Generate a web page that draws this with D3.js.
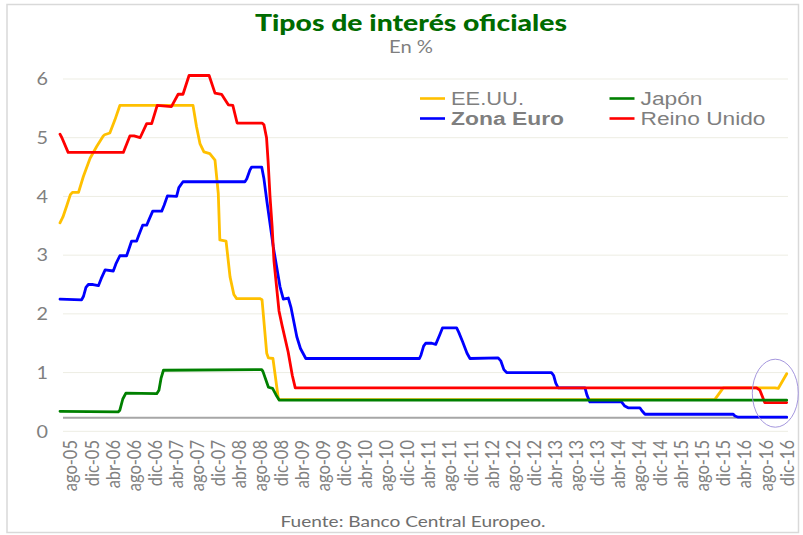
<!DOCTYPE html>
<html>
<head>
<meta charset="utf-8">
<script src="https://cdn.jsdelivr.net/npm/d3@7"></script>
<style>
  html, body { margin: 0; padding: 0; background: #ffffff; }
  svg { display: block; }
</style>
</head>
<body>
<div id="chart"></div>
<script>
// Official interest rates (%), breakpoints of each series
const usa = [
  ["2005-06-01",3.55],["2005-06-18",3.65],["2005-07-11",3.85],["2005-07-31",4.03],["2005-08-12",4.07],
  ["2005-09-16",4.07],["2005-10-14",4.34],["2005-11-22",4.65],["2005-12-30",4.85],["2006-02-06",5.03],
  ["2006-02-14",5.05],["2006-03-16",5.08],["2006-04-14",5.30],["2006-05-13",5.55],["2007-07-10",5.55],
  ["2007-07-30",5.19],["2007-08-19",4.90],["2007-09-11",4.76],["2007-10-15",4.73],["2007-11-14",4.62],
  ["2007-12-03",4.05],["2007-12-12",3.26],["2008-01-17",3.24],["2008-02-09",2.63],["2008-03-02",2.33],
  ["2008-03-18",2.26],["2008-07-30",2.26],["2008-08-12",2.24],["2008-09-08",1.33],["2008-09-18",1.25],
  ["2008-10-14",1.24],["2008-11-14",0.56],["2008-11-18",0.54],["2015-10-12",0.54],["2015-11-30",0.74],
  ["2016-09-24",0.74],["2016-10-13",0.73],["2016-12-01",0.98]
];
const zonaEuro = [
  ["2005-06-01",2.25],["2005-10-04",2.24],["2005-10-15",2.30],["2005-10-29",2.45],["2005-11-12",2.50],
  ["2005-12-09",2.50],["2006-01-09",2.48],["2006-01-25",2.60],["2006-02-17",2.75],["2006-04-05",2.73],
  ["2006-04-20",2.85],["2006-05-13",2.99],["2006-06-21",2.99],["2006-07-04",3.10],["2006-07-20",3.24],
  ["2006-08-18",3.24],["2006-09-01",3.35],["2006-09-22",3.51],["2006-10-15",3.51],["2006-10-28",3.60],
  ["2006-11-19",3.75],["2007-01-10",3.75],["2007-01-24",3.85],["2007-02-12",4.01],["2007-04-06",4.00],
  ["2007-04-19",4.15],["2007-05-13",4.25],["2008-05-05",4.25],["2008-05-16",4.30],["2008-06-03",4.45],
  ["2008-06-13",4.50],["2008-08-10",4.50],["2008-08-23",4.30],["2008-09-08",3.94],["2008-10-16",3.14],
  ["2008-11-24",2.46],["2008-12-13",2.25],["2009-01-11",2.27],["2009-01-27",2.10],["2009-03-01",1.61],
  ["2009-03-22",1.41],["2009-04-22",1.24],["2011-02-08",1.24],["2011-02-17",1.30],["2011-03-04",1.45],
  ["2011-03-16",1.50],["2011-04-20",1.50],["2011-05-13",1.48],["2011-06-06",1.65],["2011-06-21",1.76],
  ["2011-09-11",1.76],["2011-09-24",1.68],["2011-10-15",1.53],["2011-11-10",1.33],["2011-11-27",1.24],
  ["2012-05-08",1.25],["2012-05-23",1.20],["2012-06-10",1.05],["2012-06-26",1.00],["2013-03-12",1.00],
  ["2013-03-25",0.95],["2013-04-06",0.82],["2013-04-20",0.74],["2013-09-22",0.74],["2013-10-03",0.62],
  ["2013-10-20",0.50],["2014-04-21",0.50],["2014-05-10",0.43],["2014-05-29",0.40],["2014-08-05",0.40],
  ["2014-08-17",0.35],["2014-09-04",0.29],["2016-01-27",0.29],["2016-02-06",0.26],["2016-02-25",0.24],
  ["2016-12-01",0.24]
];
const japon = [
  ["2005-06-01",0.34],["2006-05-03",0.33],["2006-05-13",0.36],["2006-05-30",0.55],["2006-06-17",0.65],
  ["2006-12-12",0.64],["2006-12-25",0.70],["2007-01-06",0.90],["2007-01-20",1.04],["2008-08-10",1.05],
  ["2008-08-17",1.02],["2008-09-18",0.75],["2008-10-12",0.73],["2008-11-01",0.62],["2008-11-20",0.53],
  ["2016-12-01",0.53]
];
const reinoUnido = [
  ["2005-06-01",5.06],["2005-06-12",5.00],["2005-07-18",4.75],["2006-06-02",4.75],["2006-07-10",5.03],
  ["2006-08-03",5.03],["2006-09-07",5.00],["2006-10-15",5.24],["2006-11-13",5.24],["2006-12-15",5.55],
  ["2007-03-07",5.53],["2007-04-15",5.74],["2007-05-13",5.74],["2007-06-17",6.06],["2007-10-11",6.06],
  ["2007-11-14",5.76],["2007-12-22",5.74],["2008-01-30",5.56],["2008-02-25",5.55],["2008-03-21",5.25],
  ["2008-08-12",5.25],["2008-08-23",5.22],["2008-09-07",5.00],["2008-09-16",4.60],["2008-09-27",4.00],
  ["2008-10-09",3.50],["2008-10-20",2.90],["2008-11-18",2.05],["2008-12-06",1.80],["2009-01-10",1.35],
  ["2009-02-03",0.95],["2009-02-20",0.74],["2016-06-10",0.74],["2016-06-29",0.70],["2016-07-27",0.49],
  ["2016-12-01",0.49]
];

const tickLabels = ["ago-05","dic-05","abr-06","ago-06","dic-06","abr-07","ago-07","dic-07","abr-08",
  "ago-08","dic-08","abr-09","ago-09","dic-09","abr-10","ago-10","dic-10","abr-11","ago-11","dic-11",
  "abr-12","ago-12","dic-12","abr-13","ago-13","dic-13","abr-14","ago-14","dic-14","abr-15","ago-15",
  "dic-15","abr-16","ago-16","dic-16"];
const yTicks = [0, 1, 2, 3, 4, 5, 6];
const axisCross = 0.23;   // the category axis crosses the value axis here

const seriesList = [
  { name: "EE.UU.",      data: usa,        color: "#FFC000" },
  { name: "Zona Euro",   data: zonaEuro,   color: "#0000FF" },
  { name: "Reino Unido", data: reinoUnido, color: "#FF0000" },
  { name: "Japón",       data: japon,      color: "#008000" }
];

const W = 803, H = 535;
const parse = d3.timeParse("%Y-%m-%d");
const meses = {ene:0,feb:1,mar:2,abr:3,may:4,jun:5,jul:6,ago:7,sep:8,oct:9,nov:10,dic:11};
const labelDate = s => new Date(2000 + +s.slice(4), meses[s.slice(0,3)], 1);

const x = d3.scaleTime()
  .domain([new Date(2005, 5, 1), new Date(2016, 11, 1)])
  .range([60, 786.7]);
const y = d3.scaleLinear().domain([0, 6]).range([431.3, 79]);
const gridX0 = 63, gridX1 = 788;
const sx = 1.2;  // horizontal text stretch

const svg = d3.select("#chart").append("svg")
  .attr("width", W).attr("height", H)
  .style("font-family", "Lato, 'Open Sans', sans-serif");

// frame
svg.append("rect")
  .attr("x", 7).attr("y", 4.5).attr("width", 791.5).attr("height", 528)
  .attr("fill", "#ffffff").attr("stroke", "#D9D9D9").attr("stroke-width", 1.5);

// title
svg.append("text")
  .attr("x", 411).attr("y", 31).attr("text-anchor", "middle")
  .attr("font-size", 22.5).attr("font-weight", 900).attr("fill", "#006B00")
  .attr("textLength", 312).attr("lengthAdjust", "spacingAndGlyphs")
  .text("Tipos de interés oficiales");
svg.append("text")
  .attr("x", 411).attr("y", 53).attr("text-anchor", "middle")
  .attr("font-size", 17).attr("fill", "#7F7F7F")
  .attr("textLength", 44).attr("lengthAdjust", "spacingAndGlyphs")
  .text("En %");

// horizontal gridlines
svg.append("g").selectAll("line").data(yTicks).join("line")
  .attr("x1", gridX0).attr("x2", gridX1)
  .attr("y1", d => y(d)).attr("y2", d => y(d))
  .attr("stroke", "#EDEDE3").attr("stroke-width", 1);

// value axis labels
const yAxis = d3.axisLeft(y).tickValues(yTicks).tickSize(0).tickPadding(0).tickFormat(d3.format("d"));
const gy = svg.append("g").attr("transform", "translate(48,0)").call(yAxis);
gy.select(".domain").remove();
gy.selectAll("text")
  .attr("x", null).attr("dy", "0.35em")
  .attr("transform", `scale(${sx},1)`)
  .attr("font-family", "Lato, sans-serif").attr("font-size", 16.5).attr("fill", "#808080");

// category axis line
const xAxis = d3.axisBottom(x).tickValues(tickLabels.map(labelDate)).tickSize(0).tickFormat(() => "");
const gx = svg.append("g").attr("transform", `translate(0,${y(axisCross)})`).call(xAxis);
gx.select(".domain")
  .attr("d", `M${gridX0},0H${gridX1}`)
  .attr("stroke", "#A6A6A6").attr("stroke-width", 2);

// category labels (low position, rotated)
svg.append("g").selectAll("text").data(tickLabels).join("text")
  .attr("transform", d => `translate(${x(labelDate(d))},440) scale(${sx},1) rotate(-90)`)
  .attr("text-anchor", "end").attr("dy", "0.35em")
  .attr("font-size", 16.5).attr("fill", "#808080")
  .text(d => d);

// series
const line = d3.line()
  .x(d => x(parse(d[0])))
  .y(d => y(d[1]));
svg.append("g").selectAll("path").data(seriesList).join("path")
  .attr("d", s => line(s.data))
  .attr("fill", "none")
  .attr("stroke", s => s.color)
  .attr("stroke-width", 2.8)
  .attr("stroke-linejoin", "round")
  .attr("stroke-linecap", "round");

// legend
const legendItems = [
  { name: "EE.UU.",      color: "#FFC000", bold: false, lx: 420, ly: 98.5,  len: 73 },
  { name: "Zona Euro",   color: "#0000FF", bold: true,  lx: 420, ly: 118.5, len: 113 },
  { name: "Japón",       color: "#008000", bold: false, lx: 609.5, ly: 98.5,  len: 62 },
  { name: "Reino Unido", color: "#FF0000", bold: false, lx: 609.5, ly: 118.5, len: 125 }
];
const lg = svg.append("g").selectAll("g").data(legendItems).join("g");
lg.append("line")
  .attr("x1", d => d.lx).attr("x2", d => d.lx + 25)
  .attr("y1", d => d.ly).attr("y2", d => d.ly)
  .attr("stroke", d => d.color).attr("stroke-width", 2.6);
lg.append("text")
  .attr("x", d => d.lx + 31).attr("y", d => d.ly + 6.3)
  .attr("font-family", "'Liberation Sans', Arial, sans-serif")
  .attr("font-size", 17.5)
  .attr("font-weight", d => d.bold ? 700 : 400)
  .attr("fill", "#7F7F7F")
  .attr("textLength", d => d.len).attr("lengthAdjust", "spacingAndGlyphs")
  .text(d => d.name);

// highlight of the latest moves
svg.append("ellipse")
  .attr("cx", 775.3).attr("cy", 393.2).attr("rx", 23).attr("ry", 34)
  .attr("fill", "none").attr("stroke", "#A597DE").attr("stroke-width", 1);

// source
svg.append("text")
  .attr("x", 413).attr("y", 527).attr("text-anchor", "middle")
  .attr("font-size", 15).attr("fill", "#6E6E6E")
  .attr("textLength", 265).attr("lengthAdjust", "spacingAndGlyphs")
  .text("Fuente: Banco Central Europeo.");
</script>
</body>
</html>
